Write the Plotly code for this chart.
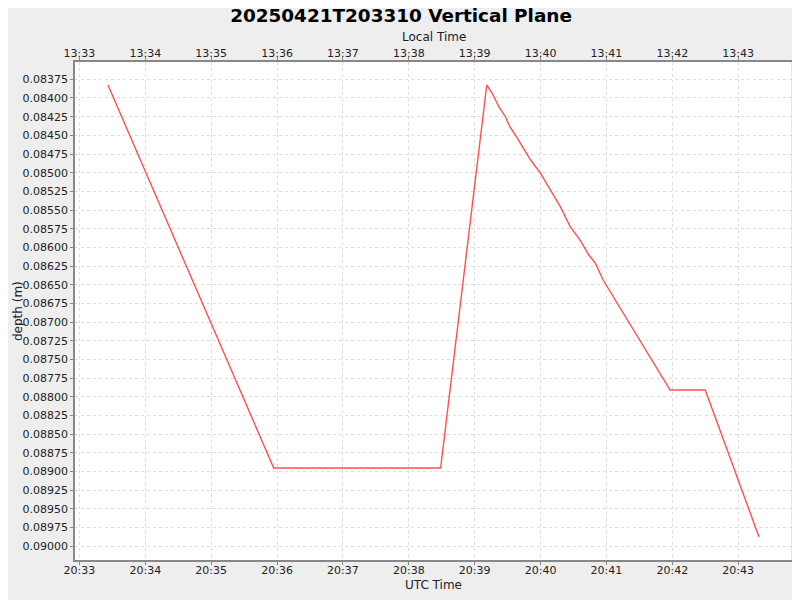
import plotly.graph_objects as go
from datetime import datetime, timedelta

# UTC sample times and depths (m)
utc_times = ["2025-04-21 20:33:26", "2025-04-21 20:35:57", "2025-04-21 20:38:29",
             "2025-04-21 20:39:11", "2025-04-21 20:39:16", "2025-04-21 20:39:22",
             "2025-04-21 20:39:28", "2025-04-21 20:39:32", "2025-04-21 20:39:38",
             "2025-04-21 20:39:51", "2025-04-21 20:40:00", "2025-04-21 20:40:09",
             "2025-04-21 20:40:18", "2025-04-21 20:40:27", "2025-04-21 20:40:36",
             "2025-04-21 20:40:44", "2025-04-21 20:40:50", "2025-04-21 20:40:57",
             "2025-04-21 20:41:58", "2025-04-21 20:42:30", "2025-04-21 20:43:19"]
depths = [0.083826, 0.088952, 0.088952,
          0.083826, 0.083937, 0.084117,
          0.084251, 0.084384, 0.084518,
          0.084830, 0.085008, 0.085232,
          0.085455, 0.085723, 0.085901,
          0.086101, 0.086213, 0.086436,
          0.087908, 0.087908, 0.089876]
utc_offset_hours = -7
x_range_utc = ["2025-04-21 20:32:56", "2025-04-21 20:43:49"]
y_range = [0.090183, 0.0835185]

fmt = "%Y-%m-%d %H:%M:%S"
def shift(s):
    return (datetime.strptime(s, fmt) + timedelta(hours=utc_offset_hours)).strftime(fmt)

local_times = [shift(t) for t in utc_times]
x_range_local = [shift(t) for t in x_range_utc]

font = "DejaVu Sans"
fig = go.Figure()
fig.add_trace(go.Scatter(x=utc_times, y=depths, mode="lines",
                         line=dict(color="#ff4f4f", width=1.4), showlegend=False))
fig.add_trace(go.Scatter(x=local_times, y=depths, mode="lines", xaxis="x2",
                         line=dict(color="rgba(0,0,0,0)", width=0), showlegend=False,
                         hoverinfo="skip"))

axis_common = dict(ticks="outside", ticklen=3, tickcolor="#888888",
                   tickfont=dict(family=font, size=11, color="#222222"),
                   showline=True, linecolor="#888888", linewidth=1.5,
                   zeroline=False, automargin=False)

title_font = dict(family=font, size=12, color="#222222")

fig.update_layout(
    width=800, height=600,
    paper_bgcolor="#eeeeee", plot_bgcolor="#ffffff",
    margin=dict(l=67, r=16, t=54, b=48, autoexpand=False),
    title=dict(text="<b>20250421T203310 Vertical Plane</b>", x=393 / 800, xanchor="center",
               y=1 - 7.5 / 600, yanchor="middle",
               font=dict(family=font, size=18.4, color="#000000")),
    xaxis=dict(type="date", range=x_range_utc, dtick=60000, tickformat="%H:%M",
               showgrid=True, gridcolor="#dddddd", griddash="3px,3px", gridwidth=1,
               ticklabelstandoff=-4,
               **axis_common),
    xaxis2=dict(type="date", range=x_range_local, dtick=60000, tickformat="%H:%M",
                overlaying="x", side="top", showgrid=False,
                ticklabelstandoff=-4,
                **axis_common),
    yaxis=dict(range=y_range, dtick=0.00025, tick0=0.08375, tickformat=".5f",
               showgrid=True, gridcolor="#dddddd", griddash="3px,3px", gridwidth=1,
               **axis_common),
    shapes=[dict(type="line", xref="paper", yref="paper", x0=1, x1=1, y0=0, y1=1,
                 line=dict(color="#cccccc", width=1))],
    annotations=[
        dict(text="Local Time", xref="paper", yref="paper", x=0.5, y=1,
             xanchor="center", yanchor="middle", yshift=25.5, showarrow=False,
             font=title_font),
        dict(text="UTC Time", xref="paper", yref="paper", x=0.5, y=0,
             xanchor="center", yanchor="middle", yshift=-25, showarrow=False,
             font=title_font),
        dict(text="depth (m)", xref="paper", yref="paper", x=0, y=0.5,
             xanchor="center", yanchor="middle", xshift=-57, textangle=-90,
             showarrow=False, font=title_font),
    ],
)

fig.write_html("out.html")
